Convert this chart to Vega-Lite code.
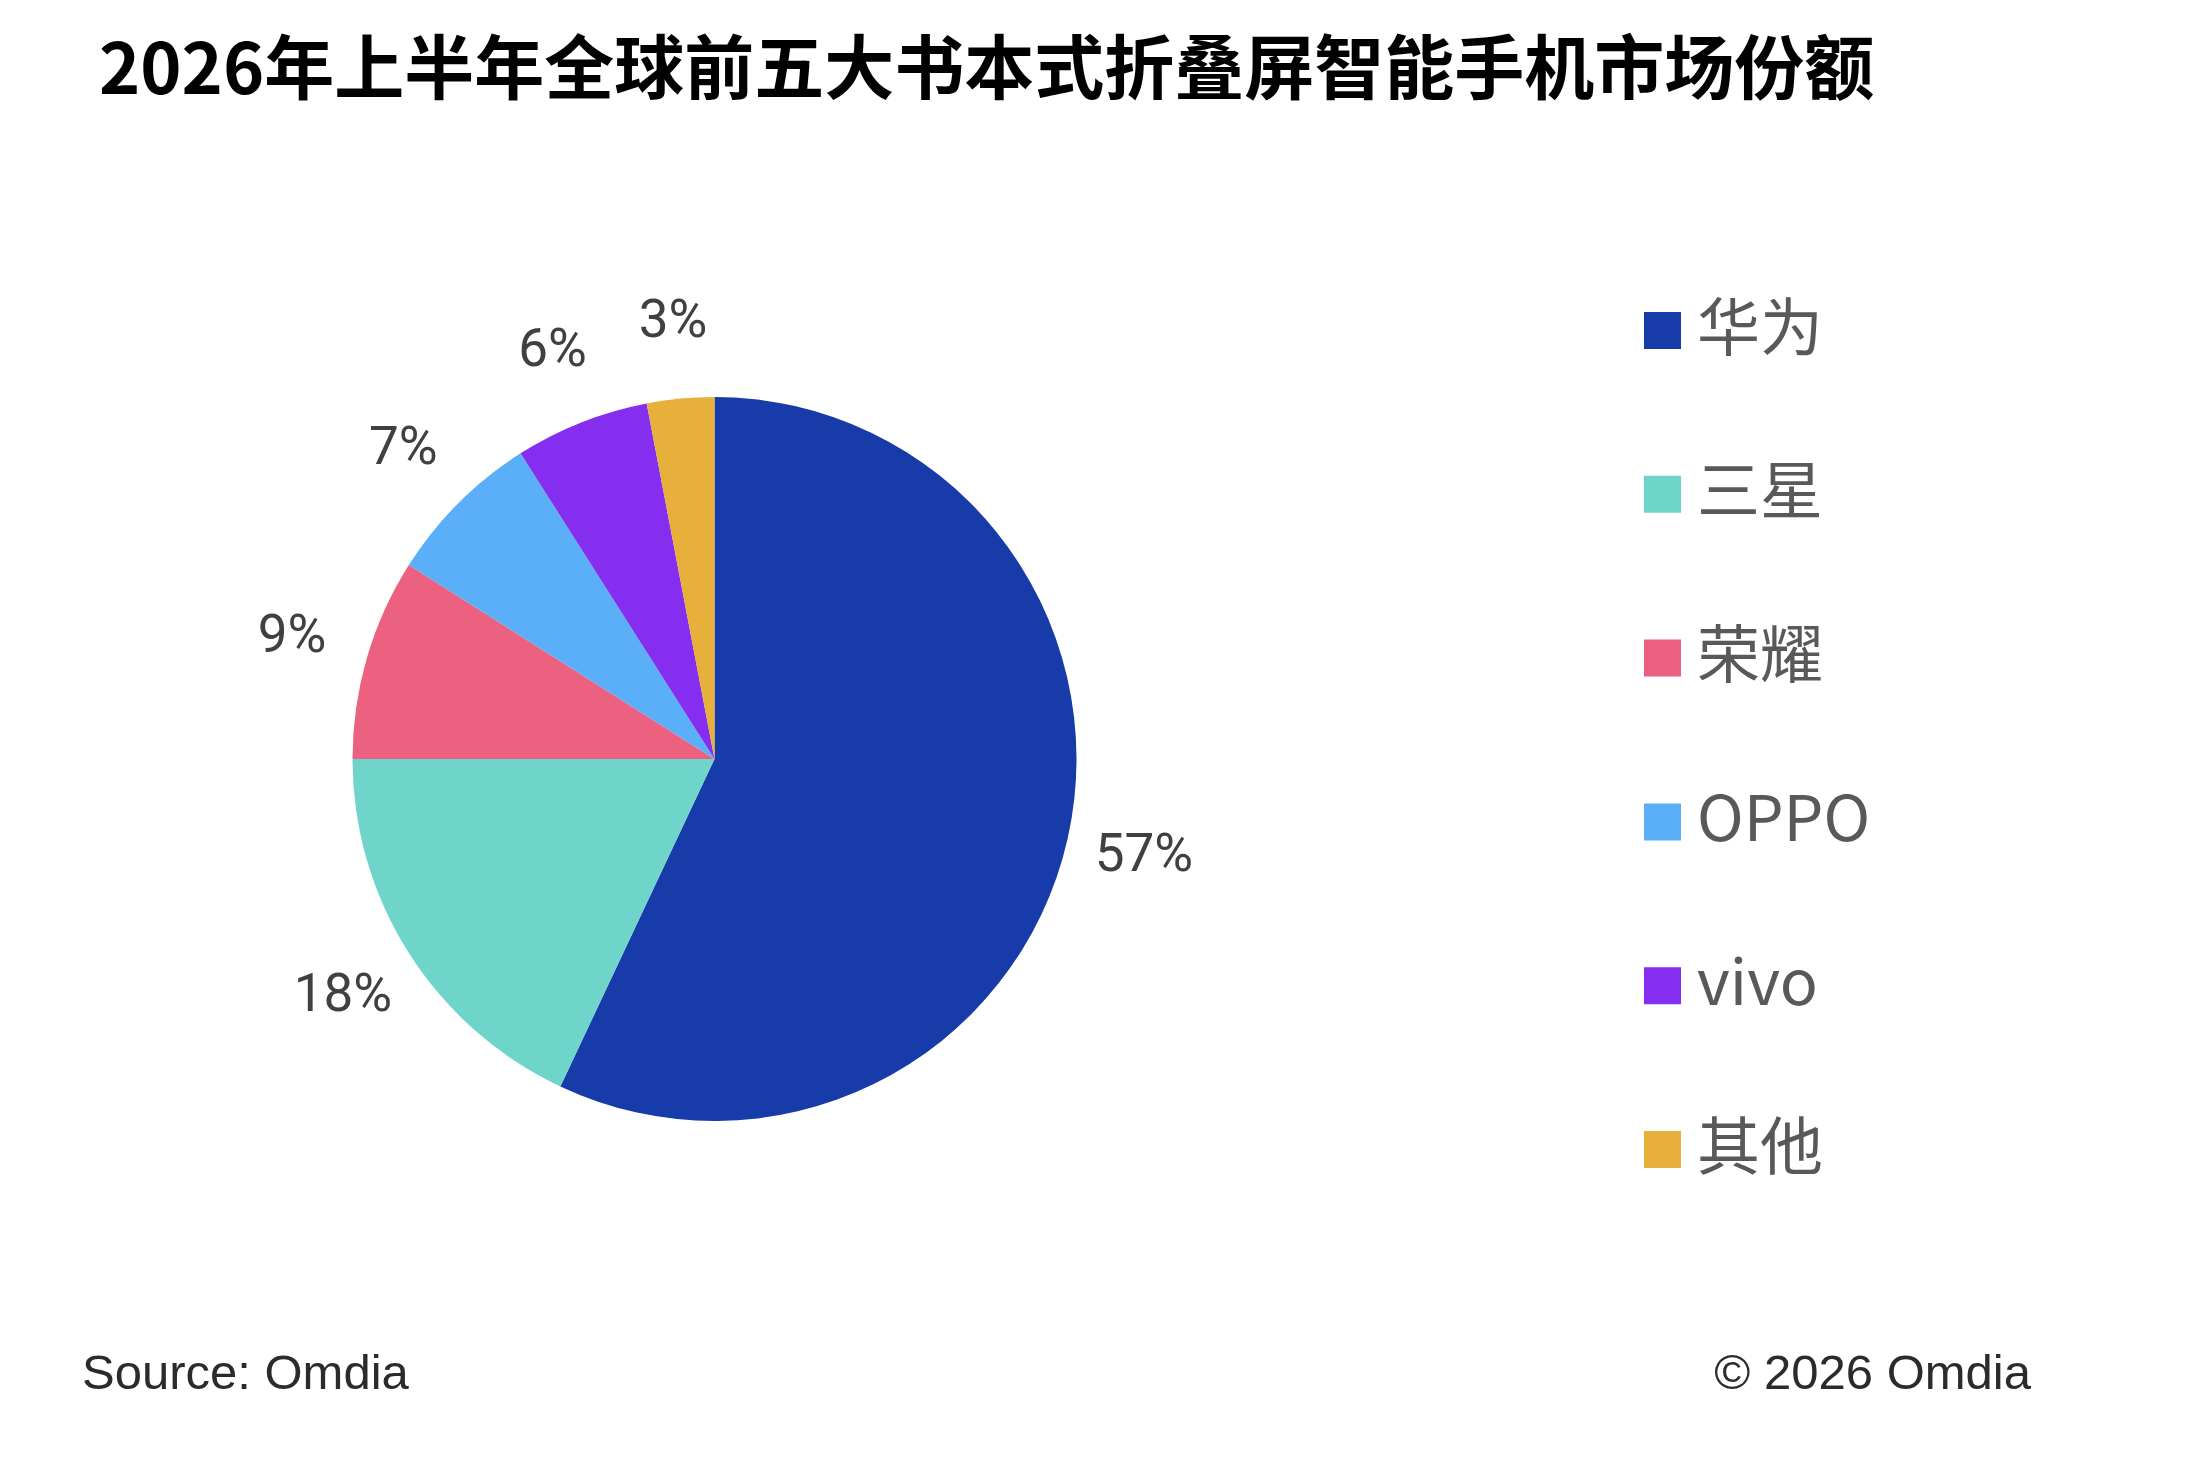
{
  "$schema": "https://vega.github.io/schema/vega-lite/v6.json",
  "background": "white",
  "padding": {"left": 82, "top": 37, "right": 0, "bottom": 0},
  "config": {"view": {"stroke": null}, "font": "Noto Sans CJK SC"},
  "datasets": {
    "share": [
      {"brand": "华为", "rank": 1, "share": 0.57},
      {"brand": "三星", "rank": 2, "share": 0.18},
      {"brand": "荣耀", "rank": 3, "share": 0.09},
      {"brand": "OPPO", "rank": 4, "share": 0.07},
      {"brand": "vivo", "rank": 5, "share": 0.06},
      {"brand": "其他", "rank": 6, "share": 0.03}
    ],
    "notes": [
      {"note": "Source: Omdia", "side": "left", "pos": 0},
      {"note": "© 2026 Omdia", "side": "right", "pos": 1}
    ]
  },
  "spacing": 135,
  "vconcat": [
    {
      "title": {
        "text": "2026年上半年全球前五大书本式折叠屏智能手机市场份额",
        "anchor": "start",
        "frame": "group",
        "fontSize": 70,
        "fontWeight": "bold",
        "color": "#000000",
        "font": "Noto Sans CJK SC",
        "offset": 186,
        "dx": 17
      },
      "width": 1265,
      "height": 900,
      "data": {"name": "share"},
      "encoding": {
        "theta": {"field": "share", "type": "quantitative", "stack": true},
        "order": {"field": "rank", "type": "quantitative"},
        "color": {
          "field": "brand",
          "type": "nominal",
          "scale": {
            "domain": ["华为", "三星", "荣耀", "OPPO", "vivo", "其他"],
            "range": ["#173ba8", "#6fd4c9", "#ec6080", "#5aaff8", "#852ef0", "#e6b03a"]
          },
          "legend": {
            "orient": "none",
            "legendX": 1549,
            "legendY": -10,
            "title": null,
            "padding": 0,
            "symbolType": "square",
            "symbolSize": 1369,
            "symbolStrokeWidth": 0,
            "labelFontSize": 63,
            "labelColor": "#595959",
            "labelFont": "Noto Sans CJK SC",
            "labelLimit": 500,
            "labelOffset": 3,
            "rowPadding": 99.8
          }
        }
      },
      "layer": [
        {"mark": {"type": "arc", "outerRadius": 362}},
        {
          "mark": {
            "type": "text",
            "radius": 440,
            "fontSize": 53,
            "font": "Roboto"
          },
          "encoding": {
            "text": {"field": "share", "type": "quantitative", "format": ".0%"},
            "color": {"value": "#404040"}
          }
        }
      ]
    },
    {
      "width": 1949,
      "height": 60,
      "data": {"name": "notes"},
      "encoding": {
        "x": {"field": "pos", "type": "quantitative", "scale": {"domain": [0, 1]}, "axis": null},
        "text": {"field": "note"}
      },
      "layer": [
        {
          "transform": [{"filter": "datum.side == 'left'"}],
          "mark": {"type": "text", "align": "left", "fontSize": 49, "font": "Liberation Sans", "color": "#2b2b2b"}
        },
        {
          "transform": [{"filter": "datum.side == 'right'"}],
          "mark": {"type": "text", "align": "right", "fontSize": 49, "font": "Liberation Sans", "color": "#2b2b2b"}
        }
      ]
    }
  ]
}
